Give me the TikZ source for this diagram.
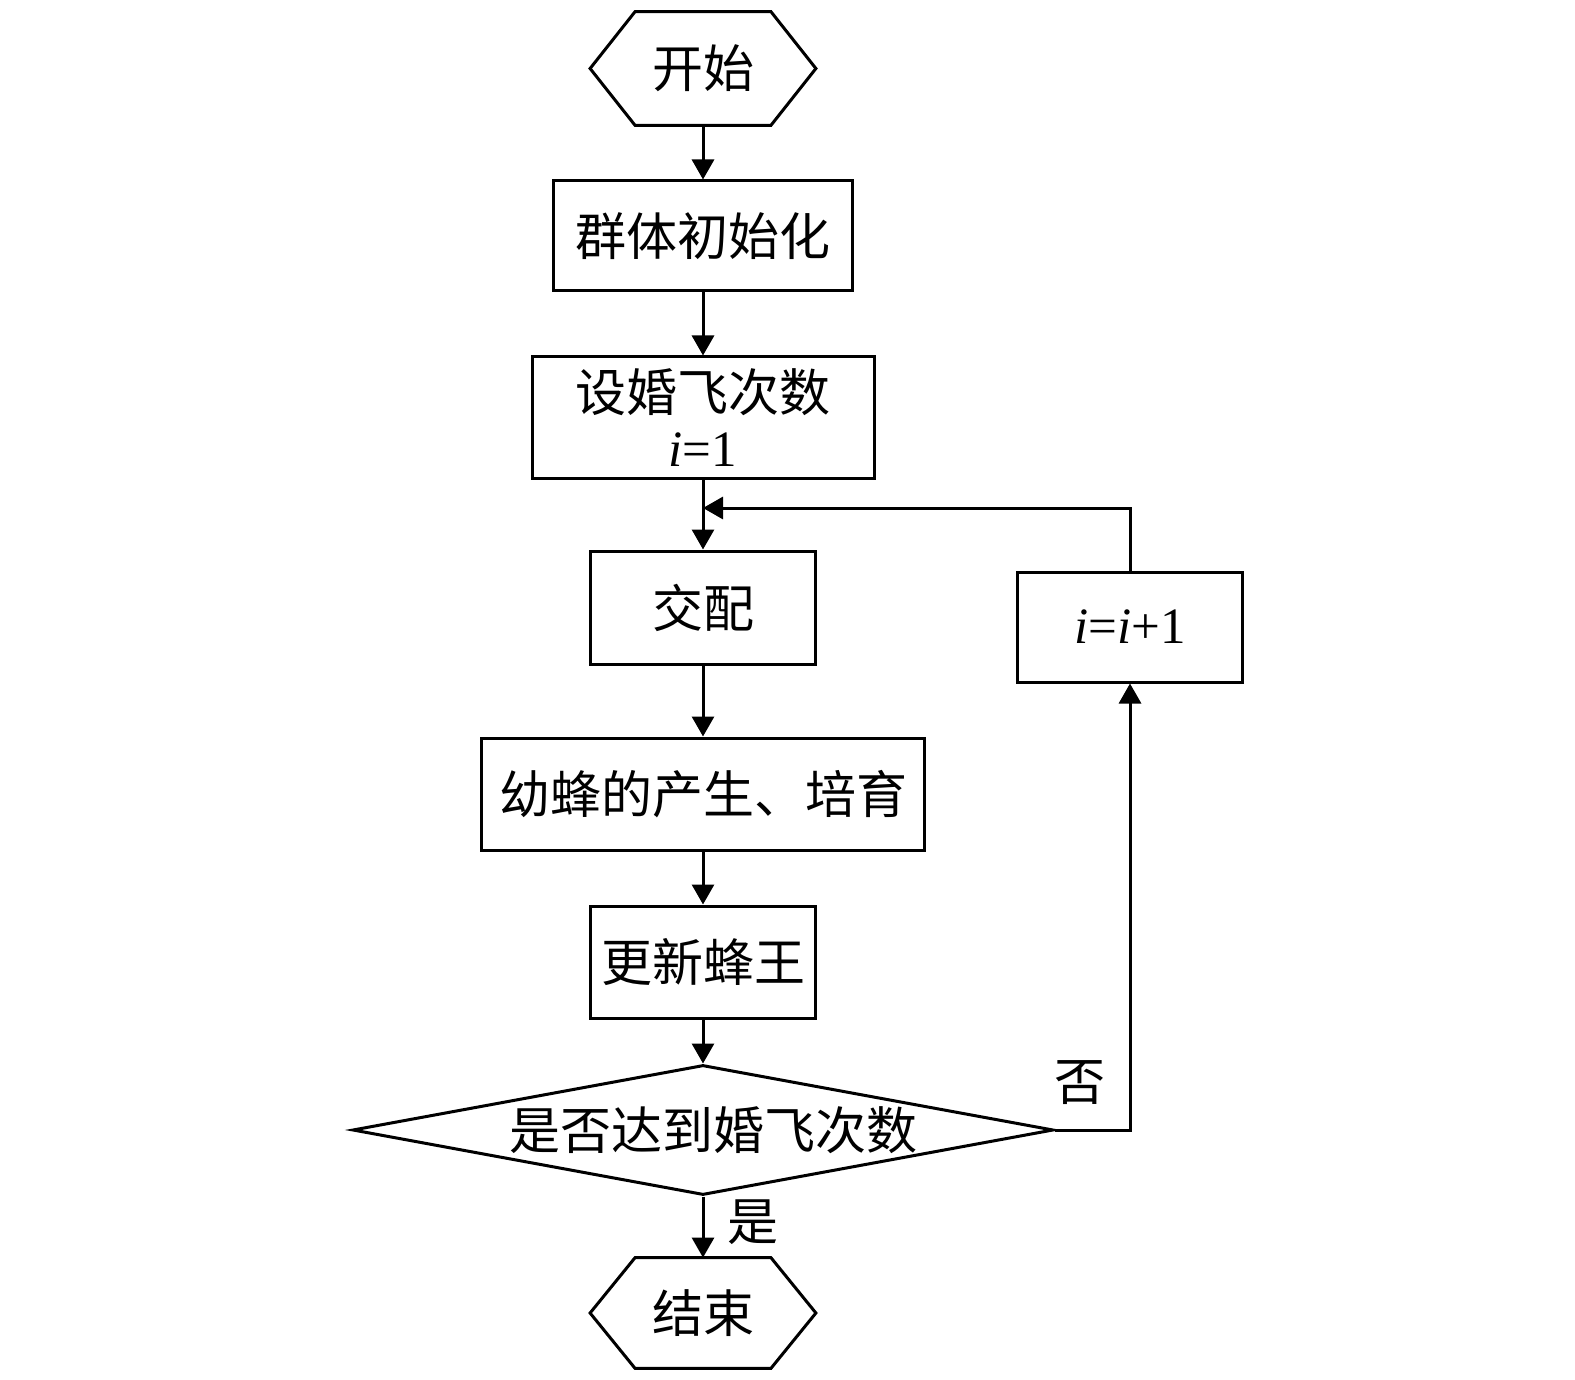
\documentclass[tikz,border=0pt]{standalone}
\usepackage{fontspec}
\setmainfont{Liberation Serif}
\newfontfamily\cjk{Noto Sans CJK SC}
\usetikzlibrary{arrows.meta,shapes.geometric}
\begin{document}
\begin{tikzpicture}[x=0.5pt,y=-0.5pt,
  box/.style={draw, line width=1.5pt, inner sep=0pt, align=center, font=\cjk\fontsize{25.5}{27.5}\selectfont},
  term/.style={inner sep=0pt, minimum width=112.5pt, font=\cjk\fontsize{25.5}{27.5}\selectfont},
  arr/.style={line width=1.5pt, -{Triangle[length=10pt,width=11pt]}},
  lbl/.style={font=\cjk\fontsize{25.5}{27.5}\selectfont, inner sep=0pt},
  hexline/.style={line width=1.5pt, line join=miter}]
\useasboundingbox (0,0) rectangle (1575,1380);

\node[term, minimum height=56.5pt] (start) at (703,68.5) {开始};
\draw[hexline] (start.west) -- ([xshift=22.5pt]start.north west) -- ([xshift=-22.5pt]start.north east) -- (start.east) -- ([xshift=-22.5pt]start.south east) -- ([xshift=22.5pt]start.south west) -- cycle;

\node[box, minimum width=149.5pt, minimum height=55pt] (b1) at (703,236) {群体初始化};
\node[box, minimum width=171pt, minimum height=60.5pt] (b2) at (703,417.5) {设婚飞次数\\[0pt]{\rmfamily\itshape i\/\upshape=1}};
\coordinate (j) at (703,508);
\node[box, minimum width=112.5pt, minimum height=56.5pt] (b3) at (703,607.5) {交配};
\node[box, minimum width=221.5pt, minimum height=56pt] (b4) at (703,794) {幼蜂的产生、培育};
\node[box, minimum width=112.5pt, minimum height=56pt] (b5) at (703,962) {更新蜂王};
\node[draw, diamond, line width=1.5pt, inner sep=0pt, aspect=5.4, minimum width=350.5pt, minimum height=65pt, font=\cjk\fontsize{25.5}{27.5}\selectfont] (d) at (703,1130) {\hspace{10pt}是否达到婚飞次数};
\node[term, minimum height=55pt] (end) at (703,1313) {结束};
\draw[hexline] (end.west) -- ([xshift=22.5pt]end.north west) -- ([xshift=-22.5pt]end.north east) -- (end.east) -- ([xshift=-22.5pt]end.south east) -- ([xshift=22.5pt]end.south west) -- cycle;
\node[box, minimum width=112.5pt, minimum height=55pt] (b6) at (1130,627) {\rmfamily\itshape i\/\upshape=\itshape i\/\upshape+1};

\draw[arr] (start.south) -- (b1.north);
\draw[arr] (b1.south) -- (b2.north);
\draw[arr] (b2.south) -- (b3.north);
\draw[arr] (b3.south) -- (b4.north);
\draw[arr] (b4.south) -- (b5.north);
\draw[arr] (b5.south) -- (d.north);
\draw[arr] (d.south) -- (end.north);
\draw[arr] (d.east) -| (b6.south);
\draw[arr] (b6.north) |- (j);

\node[lbl] (yes) at (753,1222) {是};
\node[lbl] (no) at (1080,1083) {否};
\end{tikzpicture}
\end{document}
